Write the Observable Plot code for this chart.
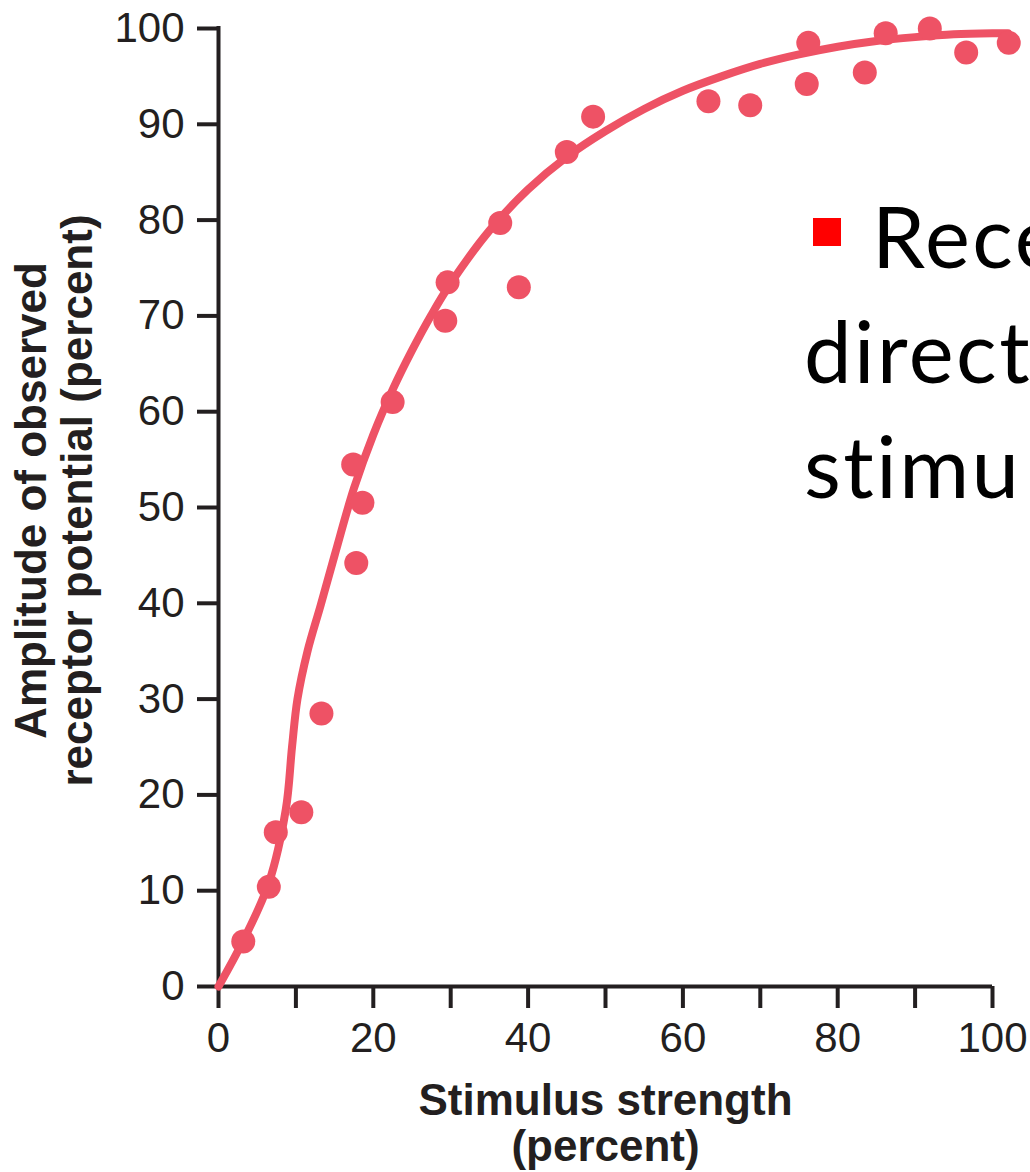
<!DOCTYPE html>
<html>
<head>
<meta charset="utf-8">
<script src="https://cdn.jsdelivr.net/npm/d3@7"></script>
<script src="https://cdn.jsdelivr.net/npm/@observablehq/plot@0.6"></script>
<style>
  html, body { margin: 0; padding: 0; background: #ffffff; }
  body { width: 1030px; height: 1172px; overflow: hidden; position: relative; }
  #chart { position: absolute; left: 0; top: 0; }
  #overlay { position: absolute; left: 0; top: 0; width: 1030px; height: 1172px; pointer-events: none; }
  #overlay text { font-variant-ligatures: none; font-feature-settings: "liga" 0, "clig" 0; }
</style>
</head>
<body>
<div id="chart"></div>
<svg id="overlay" width="1030" height="1172"></svg>
<script>
// Observed data points: stimulus strength (%) vs amplitude (%)
const stimulus = [3.2, 6.5, 7.4, 10.7, 13.3, 17.8, 17.4, 18.6, 22.5, 29.3, 29.6, 36.4, 38.8, 45.0, 48.4, 63.3, 68.7, 76.0, 76.2, 83.5, 86.2, 91.9, 96.6, 102.1];
const amplitude = [4.7, 10.4, 16.1, 18.2, 28.5, 44.2, 54.5, 50.5, 61.0, 69.5, 73.5, 79.7, 73.0, 87.1, 90.8, 92.4, 92.0, 94.2, 98.5, 95.4, 99.5, 100.0, 97.5, 98.5];

// Fitted curve
const curveX = [0, 3.2, 6.5, 8.7, 9.5, 10.2, 11.5, 13.2, 15, 17.5, 20, 22.5, 25, 27.5, 30, 35, 40, 45, 50, 55, 60, 65, 70, 75, 80, 85, 90, 95, 100, 102];
const curveY = [0, 4.8, 10.8, 18.5, 25, 30, 35.0, 39.8, 45.0, 52.0, 57.6, 62.3, 66.4, 70.1, 73.4, 78.9, 83.2, 86.6, 89.3, 91.6, 93.5, 95.0, 96.3, 97.3, 98.1, 98.7, 99.1, 99.4, 99.5, 99.5];

const yTicks = [0, 10, 20, 30, 40, 50, 60, 70, 80, 90, 100];
const xTicks = [0, 10, 20, 30, 40, 50, 60, 70, 80, 90, 100];
const xTickLabels = [0, 20, 40, 60, 80, 100];

const xTitle = "Stimulus strength\n(percent)";
const yTitle = "Amplitude of observed\nreceptor potential (percent)";
const bulletText = ["Rece", "direct", "stimu"];

const red = "#ee5265";
const ink = "#231f20";

const points = stimulus.map((x, i) => ({x, y: amplitude[i]}));
const curve = curveX.map((x, i) => ({x, y: curveY[i]}));

const chart = Plot.plot({
  width: 1030,
  height: 1172,
  marginLeft: 218,
  marginRight: 38,
  marginTop: 28,
  marginBottom: 186,
  x: {domain: [0, 100]},
  y: {domain: [0, 100]},
  style: {fontFamily: "'Liberation Sans', Arial, sans-serif", color: ink, background: "#ffffff", overflow: "visible"},
  marks: [
    Plot.axisY({ticks: yTicks, tickSize: 21, tickPadding: 13, strokeWidth: 4, fontSize: 42, label: null, stroke: ink, fill: ink}),
    Plot.axisX({ticks: xTicks, tickSize: 22, tickPadding: 14, strokeWidth: 4, fontSize: 42, label: null, stroke: ink, fill: ink,
      tickFormat: d => xTickLabels.includes(d) ? String(d) : ""}),
    Plot.ruleX([0], {stroke: ink, strokeWidth: 4, strokeLinecap: "square"}),
    Plot.ruleY([0], {stroke: ink, strokeWidth: 4}),
    Plot.line(curve, {x: "x", y: "y", stroke: red, strokeWidth: 8, curve: "catmull-rom"}),
    Plot.dot(points, {x: "x", y: "y", r: 12, fill: red, stroke: null}),
    Plot.text([yTitle], {frameAnchor: "left", textAnchor: "middle", rotate: -90, dx: -164, dy: -7, fontSize: 44, fontWeight: "bold", lineHeight: 1.045, fill: ink}),
    Plot.text([xTitle], {frameAnchor: "bottom", lineAnchor: "top", dy: 96, fontSize: 44, fontWeight: "bold", lineHeight: 1.045, fill: ink})
  ]
});
document.getElementById("chart").appendChild(chart);

// Overlaid slide text (clipped at the right edge)
const ov = d3.select("#overlay");
ov.append("rect").attr("x", 813).attr("y", 218).attr("width", 28).attr("height", 28).attr("fill", "#ff0000");
const baselines = [268, 383, 498];
const starts = [872, 804, 804];
bulletText.forEach((t, i) => {
  ov.append("text").attr("x", starts[i]).attr("y", baselines[i])
    .attr("font-family", "Lato, 'Open Sans', sans-serif").attr("font-size", 85)
    .attr("letter-spacing", 2.5).attr("fill", "#000").text(t);
});
</script>
</body>
</html>
